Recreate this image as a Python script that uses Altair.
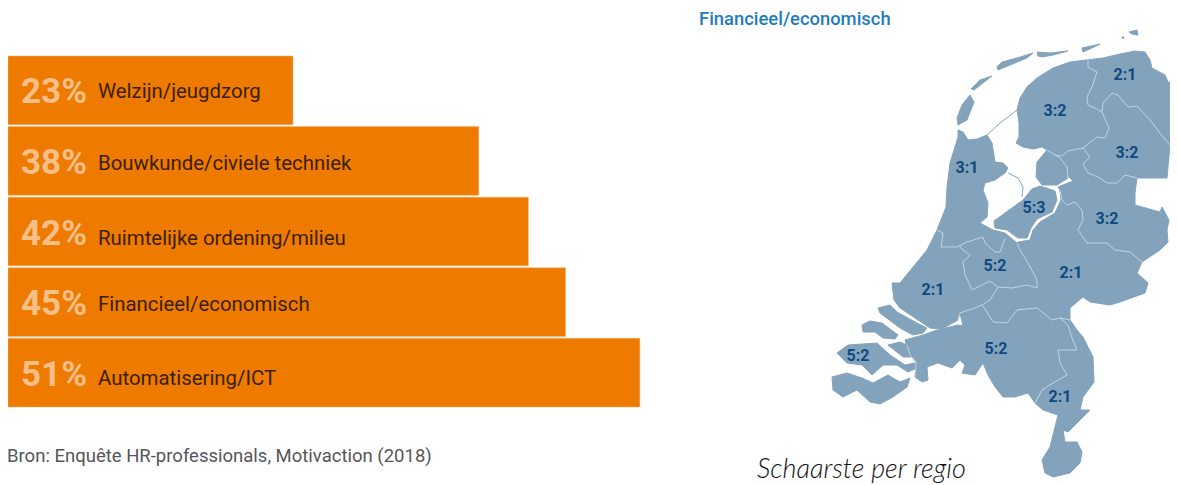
import altair as alt
import pandas as pd

categories = ["Welzijn/jeugdzorg", "Bouwkunde/civiele techniek", "Ruimtelijke ordening/milieu",
              "Financieel/economisch", "Automatisering/ICT"]
percentages = [23, 38, 42, 45, 51]

label_text = ["3:2", "2:1", "3:2", "3:1", "5:3", "3:2", "5:2", "2:1", "2:1", "5:2", "5:2", "2:1"]
label_lon = [1055, 1125, 1127, 967, 1034, 1107, 995, 1071, 933, 996, 858, 1060]
label_lat = [110, 74, 152, 167, 207, 218, 265, 272, 289, 348, 355, 396]

groningen = [(1086,60),(1103,58),(1120,54),(1135,51),(1145,52),(1150,60),(1152,68),(1165,75),(1168,82),(1178,85),(1178,102),(1177,127),(1170,145),(1163,137),(1150,120),(1137,106),(1128,107),(1118,95),(1112,93),(1103,103),(1102,112),(1097,109),(1088,105),(1087,97),(1092,87),(1097,72),(1088,67)]
friesland = [(1086,60),(1070,62),(1053,68),(1037,78),(1027,87),(1020,98),(1017,110),(1019,123),(1019,137),(1016,143),(1023,147),(1033,149),(1042,147),(1047,150),(1055,155),(1062,156),(1068,151),(1083,148),(1097,137),(1105,138),(1109,128),(1103,115),(1102,112),(1097,109),(1088,105),(1087,97),(1092,87),(1097,72),(1088,67)]
drenthe = [(1102,112),(1109,128),(1105,138),(1097,137),(1083,148),(1090,157),(1083,164),(1088,173),(1098,177),(1107,183),(1117,183),(1125,175),(1137,178),(1167,178),(1170,145),(1163,137),(1150,120),(1137,106),(1128,107),(1118,95),(1112,93),(1103,103)]
noordoostpolder = [(1047,150),(1037,162),(1036,177),(1042,185),(1057,185),(1068,178),(1067,167),(1060,158),(1055,155)]
flevoland = [(1040,186),(1055,191),(1057,200),(1052,212),(1037,219),(1031,228),(1027,238),(1018,238),(1007,230),(995,228),(994,221),(1023,200),(1032,189)]
overijssel = [(1055,155),(1062,156),(1068,151),(1083,148),(1090,157),(1083,164),(1088,173),(1098,177),(1107,183),(1117,183),(1125,175),(1137,178),(1135,193),(1135,205),(1160,212),(1162,207),(1169,220),(1167,230),(1168,242),(1160,250),(1142,262),(1130,252),(1115,250),(1107,243),(1087,243),(1078,230),(1083,220),(1082,210),(1075,202),(1067,205),(1062,200),(1060,190),(1058,187),(1073,181),(1068,176),(1067,167),(1060,158)]
gelderland = [(1060,190),(1062,200),(1067,205),(1075,202),(1082,210),(1083,220),(1078,230),(1087,243),(1107,243),(1115,250),(1130,252),(1142,262),(1137,273),(1148,283),(1145,293),(1120,302),(1110,305),(1090,302),(1083,297),(1070,308),(1070,320),(1060,318),(1052,320),(1037,308),(1017,310),(1007,323),(993,322),(987,312),(982,305),(990,300),(998,287),(1012,288),(1027,285),(1037,288),(1037,280),(1028,263),(1020,250),(1017,243),(1018,242),(1030,240),(1033,230),(1040,222),(1055,213),(1061,200)]
utrecht = [(1017,243),(1020,250),(1028,263),(1037,280),(1037,288),(1027,285),(1012,288),(998,287),(990,281),(972,290),(968,281),(965,275),(963,262),(970,255),(963,250),(960,247),(967,242),(983,237),(985,243),(995,252),(1000,252),(1005,238)]
noord_holland = [(958,130),(963,132),(968,140),(977,139),(987,135),(992,143),(995,162),(1003,163),(1008,168),(1005,173),(995,180),(985,183),(983,190),(988,203),(987,217),(980,223),(993,230),(1005,233),(1017,243),(1005,238),(1000,252),(995,252),(985,243),(983,237),(967,242),(957,247),(941,247),(943,233),(937,230),(946,207),(947,187),(950,163),(958,137)]
zuid_holland = [(937,230),(943,233),(941,247),(957,247),(960,247),(963,250),(970,255),(963,262),(965,275),(968,281),(972,290),(990,281),(998,287),(990,300),(982,305),(985,310),(975,308),(960,313),(958,320),(942,329),(930,328),(915,318),(900,308),(894,300),(892,283),(900,283),(927,250)]
goeree = [(878,308),(890,305),(897,312),(917,323),(927,328),(923,333),(913,335),(900,328),(892,322),(880,313)]
schouwen = [(862,325),(870,321),(882,323),(898,335),(895,339),(883,338),(875,332),(863,332)]
beveland_noord = [(888,345),(900,342),(907,345),(911,357),(903,357)]
walcheren = [(837,353),(848,345),(877,343),(890,355),(905,365),(915,363),(917,368),(908,372),(897,365),(883,365),(872,375),(862,365),(847,363)]
zeeuws_vlaanderen = [(832,377),(847,373),(862,378),(873,383),(888,375),(900,382),(910,378),(907,387),(893,397),(880,404),(870,402),(857,390),(843,397),(833,390)]
noord_brabant = [(905,340),(923,335),(937,330),(958,325),(963,326),(960,313),(975,308),(985,310),(993,322),(1007,323),(1017,310),(1037,308),(1052,320),(1060,318),(1068,325),(1072,338),(1077,350),(1058,350),(1060,363),(1067,375),(1053,383),(1042,390),(1035,403),(1028,393),(1015,397),(1003,397),(995,387),(988,375),(983,363),(975,375),(962,373),(965,365),(960,360),(952,368),(938,363),(927,367),(928,380),(922,382),(915,377),(916,362),(910,355),(907,347)]
limburg = [(1060,318),(1070,320),(1077,330),(1083,337),(1093,357),(1094,382),(1083,397),(1080,410),(1090,410),(1080,420),(1068,432),(1063,430),(1065,442),(1077,442),(1082,452),(1080,463),(1070,473),(1053,477),(1045,473),(1042,460),(1050,447),(1055,427),(1058,415),(1043,410),(1035,403),(1042,390),(1053,383),(1067,375),(1060,363),(1058,350),(1077,350),(1072,338),(1068,325)]
texel = [(970,95),(974,102),(967,120),(958,125),(957,118),(962,105)]
vlieland = [(971,89),(980,80),(992,76),(983,83),(974,90)]
terschelling = [(997,67),(1002,62),(1017,58),(1033,53),(1027,58),(1010,65),(998,70)]
ameland = [(1037,52),(1050,53),(1068,51),(1053,55),(1042,57),(1038,56)]
schiermonnikoog = [(1082,48),(1100,44),(1092,48),(1083,52)]
rottum = [(1129,32),(1137,30),(1138,35),(1132,34)]
rottum_klein = [(1122,37),(1124,37),(1123,39)]
afsluitdijk = [(987,135),(1000,123),(1017,110)]
houtribdijk = [(1008,173),(1018,178),(1023,187),(1022,197)]

border_lines = [
    [(1088,60),(1088,67),(1097,72),(1092,87),(1087,97),(1088,105),(1097,109),(1102,112)],
    [(1102,112),(1103,103),(1112,93),(1118,95),(1128,107),(1137,106),(1150,120),(1163,137),(1170,145)],
    [(1102,112),(1109,128),(1105,138),(1097,137),(1083,148)],
    [(1083,148),(1068,151),(1062,156),(1055,155),(1047,150)],
    [(1055,155),(1060,158),(1067,167),(1068,178)],
    [(1083,148),(1090,157),(1083,164),(1088,173),(1098,177),(1107,183),(1117,183),(1125,175),(1137,178)],
    [(1060,190),(1062,200),(1067,205),(1075,202),(1082,210),(1083,220),(1078,230),(1087,243),(1107,243),(1115,250),(1130,252),(1142,262)],
    [(1017,243),(1020,250),(1028,263),(1037,280),(1037,288),(1027,285),(1012,288),(998,287)],
    [(998,287),(990,281),(972,290),(968,281),(965,275),(963,262),(970,255),(963,250),(960,247)],
    [(937,230),(943,233),(941,247),(957,247),(967,242),(983,237),(985,243),(995,252),(1000,252),(1005,238)],
    [(998,287),(990,300),(982,305)],
    [(982,305),(975,308),(960,313),(958,320)],
    [(982,305),(987,312),(993,322),(1007,323),(1017,310),(1037,308),(1052,320),(1060,318),(1070,320)],
    [(1060,318),(1068,325),(1072,338),(1077,350),(1058,350),(1060,363),(1067,375),(1053,383),(1042,390),(1035,403)],
    [(907,345),(910,355),(916,362),(915,377)],
]

province_shapes = [groningen, friesland, drenthe, overijssel, gelderland, utrecht, noord_holland, zuid_holland,
                   noord_brabant, limburg, noordoostpolder, flevoland, goeree, schouwen, beveland_noord,
                   walcheren, zeeuws_vlaanderen, texel, vlieland, terschelling, ameland, schiermonnikoog,
                   rottum, rottum_klein]
dike_shapes = [afsluitdijk, houtribdijk]


def polygon(points):
    ring = [list(p) for p in points] + [list(points[0])]
    return {"type": "Feature", "properties": {}, "geometry": {"type": "Polygon", "coordinates": [ring]}}


def line(points):
    return {"type": "Feature", "properties": {},
            "geometry": {"type": "LineString", "coordinates": [list(p) for p in points]}}


BLUE = "#83a3bc"
PROJECTION = dict(type="identity", scale=1, translate=[-8, -8])

x_bar = alt.X("pct:Q", scale=alt.Scale(domain=[0, 93.79]), axis=None)
y_bar = alt.Y("cat:N", sort=categories, axis=None,
              scale=alt.Scale(range=[48, 399], paddingInner=0.027, paddingOuter=0, round=False))
bar_df = pd.DataFrame({"cat": categories, "pct": percentages,
                       "pct_label": [f"{p}%" for p in percentages]})

bars = alt.Chart(bar_df).mark_bar(color="#ee7a00", stroke="#f7b066", strokeWidth=0.5).encode(x=x_bar, y=y_bar)
pct_text = alt.Chart(bar_df).mark_text(align="left", baseline="middle", font="Roboto", fontWeight="bold", dy=2,
                                       fontSize=35, color="#f9bf88").encode(
    x=alt.value(13), y=y_bar, text="pct_label:N")
cat_layers = [
    alt.Chart(bar_df[bar_df["cat"] == c]).mark_text(align="left", baseline="middle", font="Roboto", fontSize=20.4,
                                                    color="#3c2004", dy=d).encode(
        x=alt.value(90), y=y_bar, text="cat:N")
    for c, d in zip(categories, [2, 3.5, 7, 3, 6])
]

land = alt.Chart(alt.InlineData(values=[polygon(s) for s in province_shapes])).mark_geoshape(
    fill=BLUE, stroke=BLUE, strokeWidth=1).project(**PROJECTION)
borders = alt.Chart(alt.InlineData(values=[line(s) for s in border_lines])).mark_geoshape(
    filled=False, stroke="#c9d8e3", strokeWidth=0.9).project(**PROJECTION)
dikes = alt.Chart(alt.InlineData(values=[line(s) for s in dike_shapes])).mark_geoshape(
    filled=False, stroke=BLUE, strokeWidth=1).project(**PROJECTION)

map_labels = alt.Chart(pd.DataFrame({"t": label_text, "lon": label_lon, "lat": label_lat})).mark_text(
    font="Roboto", fontWeight="bold", fontSize=16, color="#10497f", align="center", baseline="middle", dy=1).encode(
    longitude="lon:Q", latitude="lat:Q", text="t:N").project(**PROJECTION)


def note(text, x, y, **kw):
    return alt.Chart(pd.DataFrame({"t": [text]})).mark_text(align="left", baseline="middle", **kw).encode(
        x=alt.value(x), y=alt.value(y), text="t:N")


title = note("Financieel/economisch", 691, 11, font="Roboto", fontSize=18.4, fontWeight=500, color="#1f7cc1")
source = note("Bron: Enquête HR-professionals, Motivaction (2018)", -1, 448, font="Roboto", fontSize=18.5, color="#55555a")
caption = note("Schaarste per regio", 749, 462, font="Lato", fontStyle="italic", fontWeight=300, fontSize=27, color="#111111")

chart = alt.layer(
    bars, pct_text, *cat_layers, land, borders, dikes, map_labels, title, source, caption
).properties(width=1162, height=477, padding=0, autosize=alt.AutoSizeParams(type="none"), background="white"
).configure_view(stroke=None)

chart.save("out.html", embed_options={"renderer": "svg", "actions": False})
